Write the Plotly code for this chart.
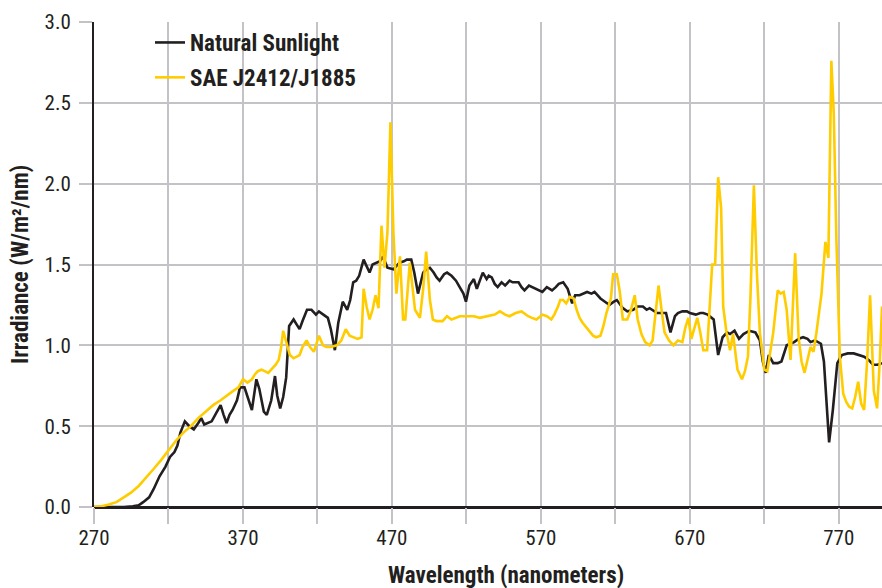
import plotly.graph_objects as go

sun_nm = [270, 280, 290, 296, 300, 303, 307, 310, 314, 318, 321, 324, 326, 328, 331, 334, 337, 340, 342, 344,
          347, 349, 352, 355, 357, 359, 361, 363, 366, 368, 371, 373, 376, 379, 381, 384, 386, 389, 391.5, 393,
          395, 397, 399, 401, 404, 406, 408, 410, 413, 416, 419, 421, 424, 427, 429, 431.7, 434, 437, 440, 442,
          444, 446, 448, 451, 453, 455, 457, 460, 462, 464, 467, 471, 473, 475, 478, 480, 483, 485, 487.5, 489,
          491, 493, 495.5, 498, 500, 502, 505, 507, 510, 513, 515.6, 518, 519.7, 522, 525, 527, 529, 531, 533.6, 535,
          537, 539, 541, 543.6, 546, 549, 551, 555, 557, 559, 562, 564, 567, 571, 574, 577.5, 580, 582, 585, 588,
          591, 593, 596, 598, 601, 604, 606, 608, 610, 613, 616, 619, 621, 625, 628, 632, 635, 638.5, 641, 643,
          646, 648, 651, 654, 657, 660, 662, 665, 668, 670, 674, 677, 679, 682, 686, 689, 692, 695, 697, 700,
          703, 706, 708, 710, 714, 717, 719, 721, 723, 726, 729, 731.5, 735, 738, 740, 743, 746, 749, 751, 754,
          758, 760, 763.5, 766, 769, 772, 776, 780, 784, 787, 790, 793, 796, 799]
sun_val = [0, 0, 0, 0.005, 0.01, 0.03, 0.06, 0.11, 0.19, 0.25, 0.31, 0.34, 0.38, 0.46, 0.53, 0.50, 0.48, 0.52, 0.55, 0.51,
           0.52, 0.53, 0.58, 0.63, 0.57, 0.52, 0.57, 0.60, 0.66, 0.74, 0.74, 0.68, 0.60, 0.79, 0.73, 0.59, 0.57, 0.66, 0.81, 0.69,
           0.61, 0.68, 0.80, 1.12, 1.16, 1.13, 1.10, 1.15, 1.22, 1.22, 1.19, 1.21, 1.19, 1.17, 1.10, 0.97, 1.14, 1.27, 1.22, 1.28,
           1.39, 1.40, 1.43, 1.53, 1.49, 1.45, 1.50, 1.51, 1.52, 1.55, 1.48, 1.47, 1.49, 1.51, 1.52, 1.53, 1.53, 1.45, 1.32, 1.38,
           1.45, 1.47, 1.48, 1.45, 1.42, 1.40, 1.44, 1.45, 1.43, 1.40, 1.36, 1.32, 1.27, 1.37, 1.41, 1.35, 1.40, 1.45, 1.41, 1.43,
           1.42, 1.38, 1.36, 1.39, 1.37, 1.40, 1.39, 1.39, 1.36, 1.34, 1.37, 1.36, 1.35, 1.33, 1.36, 1.34, 1.36, 1.38, 1.39, 1.35,
           1.26, 1.31, 1.31, 1.32, 1.33, 1.32, 1.33, 1.31, 1.29, 1.27, 1.25, 1.27, 1.28, 1.23, 1.21, 1.22, 1.24, 1.24, 1.22, 1.23,
           1.21, 1.20, 1.20, 1.20, 1.08, 1.18, 1.20, 1.21, 1.21, 1.20, 1.19, 1.20, 1.20, 1.19, 1.16, 0.94, 1.05, 1.08, 1.07, 1.09,
           1.04, 1.07, 1.08, 1.09, 1.08, 1.03, 0.90, 0.83, 0.94, 0.89, 0.89, 0.90, 1.00, 1.01, 1.02, 1.04, 1.05, 1.04, 1.02, 1.03,
           1.01, 0.90, 0.40, 0.60, 0.89, 0.94, 0.95, 0.95, 0.94, 0.93, 0.91, 0.88, 0.88, 0.89]

sae_nm = [270, 275, 280, 285, 290, 295, 300, 305, 310, 315, 320, 325, 330, 335, 340, 345, 350, 355, 359, 363,
          367, 370, 373, 376, 378, 380, 382.5, 385, 387, 390, 392, 394, 395.5, 397, 399, 401.5, 404, 406, 408, 410,
          412.7, 415, 417.6, 419, 421, 423.7, 426, 429, 433, 436, 439, 441.6, 444, 447, 449.6, 451, 453, 455, 457, 459,
          461, 463, 465, 467, 469, 471, 473, 475.4, 477.5, 479, 482, 485.5, 488.8, 491, 493, 495.5, 497.5, 500, 504, 507,
          510, 515.6, 520, 525, 529, 535, 539, 542.5, 546, 549, 553, 557, 561.5, 564, 567, 571, 574, 577, 579, 581.5,
          583, 585, 587, 589.5, 592, 594, 596, 598, 600.7, 603, 605, 607, 610, 612, 614, 617, 618.5, 621, 623, 625,
          628, 630.5, 633, 635, 637.5, 640, 643, 645, 647, 649, 651, 653, 656, 659, 662, 665, 667, 669, 671, 673,
          675, 677, 679, 681.6, 683.5, 685, 687, 689, 691, 692.4, 694.6, 697, 699, 702, 705, 707, 709, 710.7, 713, 715,
          717, 720, 722, 724, 726, 729, 731, 733, 735, 737.6, 740.7, 743, 745, 747, 749, 751, 753, 755, 758.4, 761,
          763, 765, 766.6, 768.4, 770.7, 773, 775, 777, 779, 781, 783, 785, 787, 789, 791, 793.5, 795.7, 797.5, 799]
sae_val = [0.00, 0.005, 0.015, 0.03, 0.06, 0.09, 0.13, 0.18, 0.235, 0.29, 0.35, 0.41, 0.46, 0.50, 0.55, 0.59, 0.63, 0.66, 0.69, 0.715,
           0.74, 0.79, 0.77, 0.79, 0.82, 0.84, 0.85, 0.84, 0.83, 0.86, 0.88, 0.91, 0.98, 1.09, 1.02, 0.94, 0.92, 0.93, 0.94, 0.99,
           1.03, 0.99, 0.96, 1.00, 1.06, 1.00, 0.99, 0.99, 1.00, 1.03, 1.10, 1.06, 1.05, 1.04, 1.05, 1.35, 1.24, 1.16, 1.22, 1.31,
           1.23, 1.74, 1.48, 1.70, 2.38, 1.70, 1.32, 1.55, 1.16, 1.16, 1.51, 1.22, 1.17, 1.35, 1.58, 1.28, 1.16, 1.15, 1.15, 1.18,
           1.16, 1.18, 1.18, 1.18, 1.17, 1.18, 1.19, 1.21, 1.19, 1.18, 1.20, 1.21, 1.18, 1.17, 1.16, 1.19, 1.18, 1.16, 1.19, 1.24,
           1.28, 1.28, 1.26, 1.30, 1.29, 1.22, 1.17, 1.14, 1.11, 1.08, 1.06, 1.05, 1.06, 1.12, 1.20, 1.29, 1.44, 1.44, 1.33, 1.16,
           1.16, 1.22, 1.31, 1.16, 1.07, 1.02, 1.00, 1.03, 1.20, 1.37, 1.22, 1.08, 1.03, 1.00, 1.03, 1.02, 1.11, 1.17, 1.04, 1.10,
           1.17, 1.08, 0.97, 0.97, 1.30, 1.50, 1.50, 2.04, 1.85, 1.24, 1.08, 0.97, 1.07, 0.85, 0.79, 0.84, 0.93, 1.30, 1.99, 1.45,
           1.08, 0.85, 0.84, 0.95, 1.08, 1.34, 1.32, 1.33, 1.22, 0.91, 1.57, 1.05, 0.90, 0.83, 0.92, 0.99, 0.96, 1.08, 1.32, 1.64,
           1.54, 2.76, 2.44, 1.65, 0.93, 0.70, 0.65, 0.62, 0.61, 0.68, 0.775, 0.64, 0.60, 0.90, 1.31, 0.72, 0.61, 0.90, 1.24]

x_tickvals = [270, 320, 370, 420, 470, 520, 570, 620, 670, 720, 770]
x_ticktext = ["270", "", "370", "", "470", "", "570", "", "670", "", "770"]
y_tickvals = [0, 0.5, 1.0, 1.5, 2.0, 2.5, 3.0]
y_ticktext = ["0.0", "0.5", "1.0", "1.5", "2.0", "2.5", "3.0"]

FONT = "Liberation Sans Narrow, Arial Narrow, Roboto Condensed, DejaVu Sans Condensed, sans-serif"
GRID = "#c3c3c7"
INK = "#231f20"

W, H = 882, 588
L, R, T, B = 94, 0, 22, 81
pw, ph = W - L - R, H - T - B


def px(xp):
    return (xp - L) / pw


def py(yp):
    return (H - B - yp) / ph


fig = go.Figure()
fig.add_trace(go.Scatter(x=sun_nm, y=sun_val, mode="lines", name="Natural Sunlight",
                         legendgroup="a", line=dict(color=INK, width=2.6)))
fig.add_trace(go.Scatter(x=sae_nm, y=sae_val, mode="lines", name="SAE J2412/J1885",
                         legendgroup="b", line=dict(color="#ffcc00", width=2.6)))

fig.update_layout(
    width=W, height=H,
    margin=dict(l=L, r=R, t=T, b=B),
    paper_bgcolor="white", plot_bgcolor="white",
    font=dict(family=FONT, size=21, color=INK),
    showlegend=True,
    legend=dict(x=px(150), y=py(21), xanchor="left", yanchor="top",
                bgcolor="rgba(0,0,0,0)", tracegroupgap=2,
                font=dict(family=FONT, size=23, color=INK, weight="bold"),
                itemwidth=30),
    xaxis=dict(range=[270, 799], tickvals=x_tickvals, ticktext=x_ticktext,
               showgrid=True, gridcolor=GRID, gridwidth=2,
               ticks="outside", ticklen=16, tickwidth=2, tickcolor=GRID,
               ticklabelstandoff=-4,
               showline=False, zeroline=False,
               tickfont=dict(family=FONT, size=21, color=INK)),
    yaxis=dict(range=[0, 3.0], tickvals=y_tickvals, ticktext=y_ticktext,
               showgrid=True, gridcolor=GRID, gridwidth=2,
               ticks="outside", ticklen=13, tickwidth=2, tickcolor=GRID,
               ticklabelstandoff=4,
               showline=True, linecolor=INK, linewidth=2,
               zeroline=True, zerolinecolor=INK, zerolinewidth=2.5,
               tickfont=dict(family=FONT, size=21, color=INK)),
)
fig.add_annotation(text="<b>Wavelength (nanometers)</b>", x=px(505.5), y=py(575), xref="paper", yref="paper",
                   xanchor="center", yanchor="middle", showarrow=False, font=dict(family=FONT, size=23))
fig.add_annotation(text="<b>Irradiance (W/m²/nm)</b>", x=px(20), y=py(265), xref="paper", yref="paper",
                   xanchor="center", yanchor="middle", showarrow=False, textangle=-90,
                   font=dict(family=FONT, size=23))

fig.write_html("out.html", config={"displayModeBar": False},
               post_script="document.body.style.margin='0';document.body.style.padding='0';")
